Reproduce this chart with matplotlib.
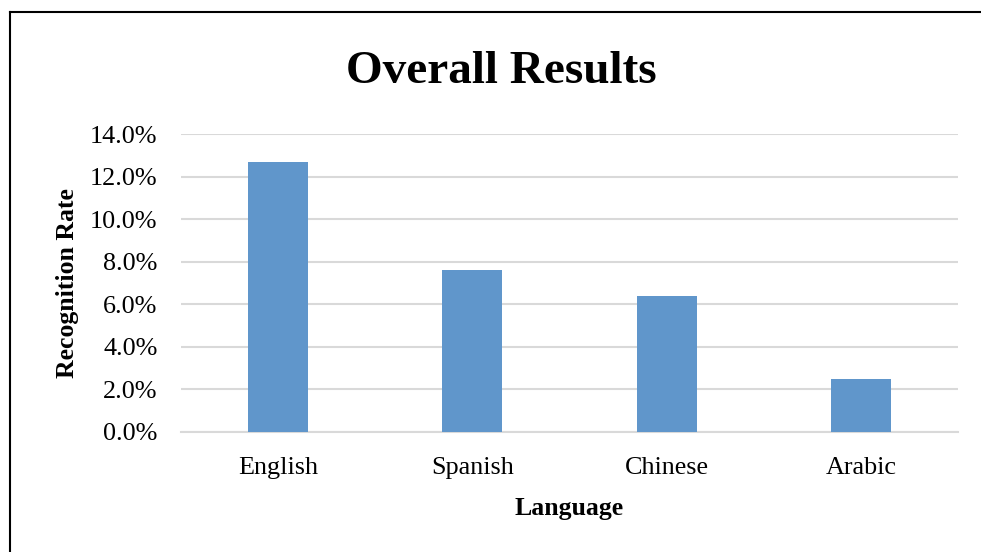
import matplotlib.pyplot as plt
from matplotlib.ticker import FuncFormatter
from matplotlib.lines import Line2D

languages = ["English", "Spanish", "Chinese", "Arabic"]
rates = [12.7, 7.6, 6.4, 2.5]  # percent
y_ticks = [0, 2, 4, 6, 8, 10, 12, 14]

plt.rcParams['font.family'] = ['Liberation Serif', 'DejaVu Serif']

fig = plt.figure(figsize=(9.81, 5.52), dpi=100)
ax = fig.add_axes([181 / 981, 1 - 432 / 552, 777 / 981, 298 / 552])

x = range(len(languages))
ax.bar(x, rates, width=0.31, color='#6096CB', zorder=3)

ax.set_xlim(-0.5, len(languages) - 0.5)
ax.set_ylim(0, 14)
ax.set_yticks(y_ticks)
ax.yaxis.set_major_formatter(FuncFormatter(lambda v, p: '{:.1f}%'.format(v)))
ax.set_xticks(list(x))
ax.set_xticklabels(languages)
ax.tick_params(axis='both', length=0, labelsize=18.8, colors='black')
ax.tick_params(axis='y', pad=17)
ax.tick_params(axis='x', pad=18)

ax.grid(axis='y', color='#D9D9D9', linewidth=1.5, zorder=0)
for s in ['top', 'right', 'left']:
    ax.spines[s].set_visible(False)
ax.spines['bottom'].set_color('#D9D9D9')
ax.spines['bottom'].set_linewidth(1.5)

ax.set_xlabel('Language', fontsize=18.5, fontweight='bold', labelpad=13)
ax.set_ylabel('Recognition Rate', fontsize=18.5, fontweight='bold', labelpad=8)

fig.text(501 / 981, 1 - 72 / 552, 'Overall Results', fontsize=34, fontweight='bold',
         ha='center', va='center')

# chart frame (left and top edges visible)
fig.add_artist(Line2D([10 / 981, 10 / 981], [0, 1 - 12 / 552], color='black', linewidth=1.5,
                      transform=fig.transFigure))
fig.add_artist(Line2D([10 / 981, 1], [1 - 12 / 552, 1 - 12 / 552], color='black', linewidth=1.5,
                      transform=fig.transFigure))

fig.savefig('out.png', dpi=100)
